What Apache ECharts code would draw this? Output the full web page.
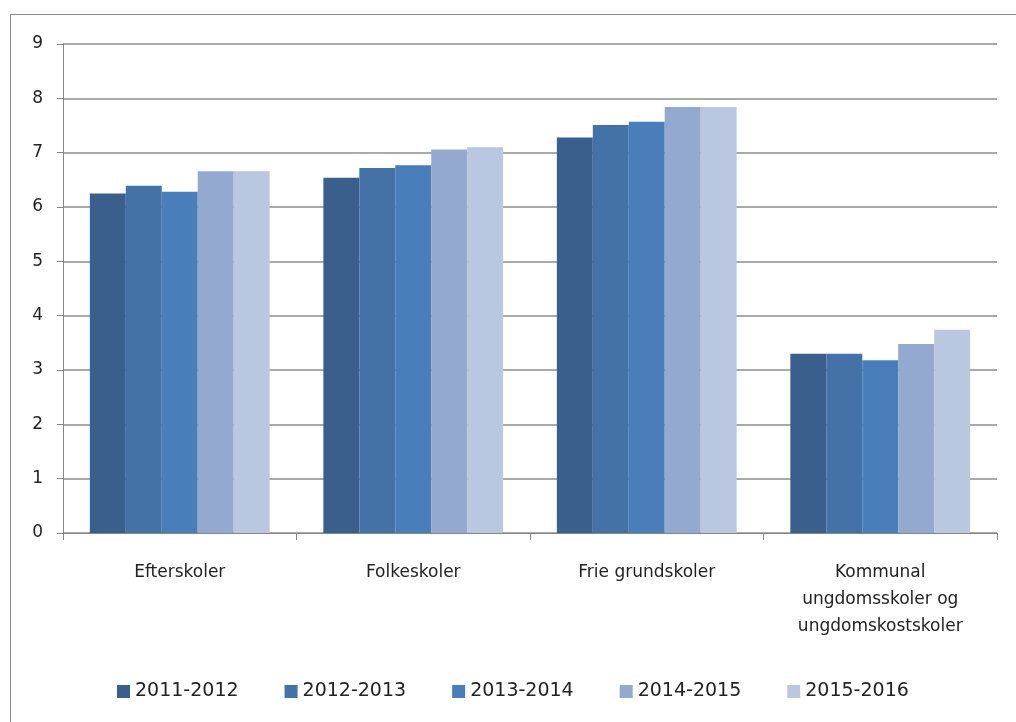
<!DOCTYPE html>
<html>
<head>
<meta charset="utf-8">
<script src="https://cdn.jsdelivr.net/npm/echarts@6/dist/echarts.min.js"></script>
<style>
html, body { margin: 0; padding: 0; background: #fff; }
.frame {
    position: absolute;
    left: 10px;
    top: 14px;
    width: 1010px;
    height: 720px;
    border-left: 1px solid #8c8c8c;
    border-top: 1px solid #8c8c8c;
}
.charts { position: absolute; left: 0; top: 0; width: 1016px; height: 722px; }
</style>
</head>
<body>
<div class="frame"></div>
<div class="charts" id="chart"></div>
<script>
// kategorier og skoleår
const categories = ['Efterskoler', 'Folkeskoler', 'Frie grundskoler', 'Kommunal\nungdomsskoler og\nungdomskostskoler'];
const years = ['2011-2012', '2012-2013', '2013-2014', '2014-2015', '2015-2016'];
const yearColors = ['#3a5f8c', '#4472a7', '#4a7ebb', '#93a9cf', '#b9c7e0'];

// værdier pr. skoleår
const v2011 = [6.25, 6.54, 7.28, 3.30];
const v2012 = [6.39, 6.72, 7.51, 3.30];
const v2013 = [6.28, 6.77, 7.57, 3.18];
const v2014 = [6.66, 7.06, 7.84, 3.48];
const v2015 = [6.66, 7.10, 7.84, 3.74];
const values = [v2011, v2012, v2013, v2014, v2015];

const yTicks = [0, 9, 1]; // min, max, interval

const chart = echarts.init(document.getElementById('chart'));

const series = years.map(function (y, i) {
    return {
        name: y,
        type: 'bar',
        data: values[i],
        barGap: '0%',
        barCategoryGap: '23%',
        itemStyle: { color: yearColors[i] },
        emphasis: { disabled: true }
    };
});

const option = {
    animation: false,
    textStyle: { fontFamily: '"DejaVu Sans", sans-serif' },
    grid: { left: 63, right: 19, top: 44, bottom: 189, containLabel: false },
    legend: {
        bottom: 16,
        left: 112,
        itemWidth: 13,
        itemHeight: 13,
        itemGap: 46,
        icon: 'rect',
        textStyle: { fontSize: 19, color: '#222', fontFamily: '"DejaVu Sans", sans-serif' },
        data: years
    },
    xAxis: {
        type: 'category',
        data: categories,
        axisLine: { lineStyle: { color: '#868686', width: 1 } },
        axisTick: { show: true, length: 7, alignWithLabel: false, lineStyle: { color: '#868686' } },
        axisLabel: {
            color: '#222',
            fontSize: 17,
            margin: 26,
            lineHeight: 27,
            interval: 0
        }
    },
    yAxis: {
        type: 'value',
        min: yTicks[0],
        max: yTicks[1],
        interval: yTicks[2],
        axisLine: { show: true, lineStyle: { color: '#868686' } },
        axisTick: { show: true, length: 6, lineStyle: { color: '#868686' } },
        splitLine: { lineStyle: { color: '#8c8c8c', width: 1.5 } },
        axisLabel: { color: '#222', fontSize: 17, margin: 20 }
    },
    series: series
};

chart.setOption(option);
</script>
</body>
</html>
